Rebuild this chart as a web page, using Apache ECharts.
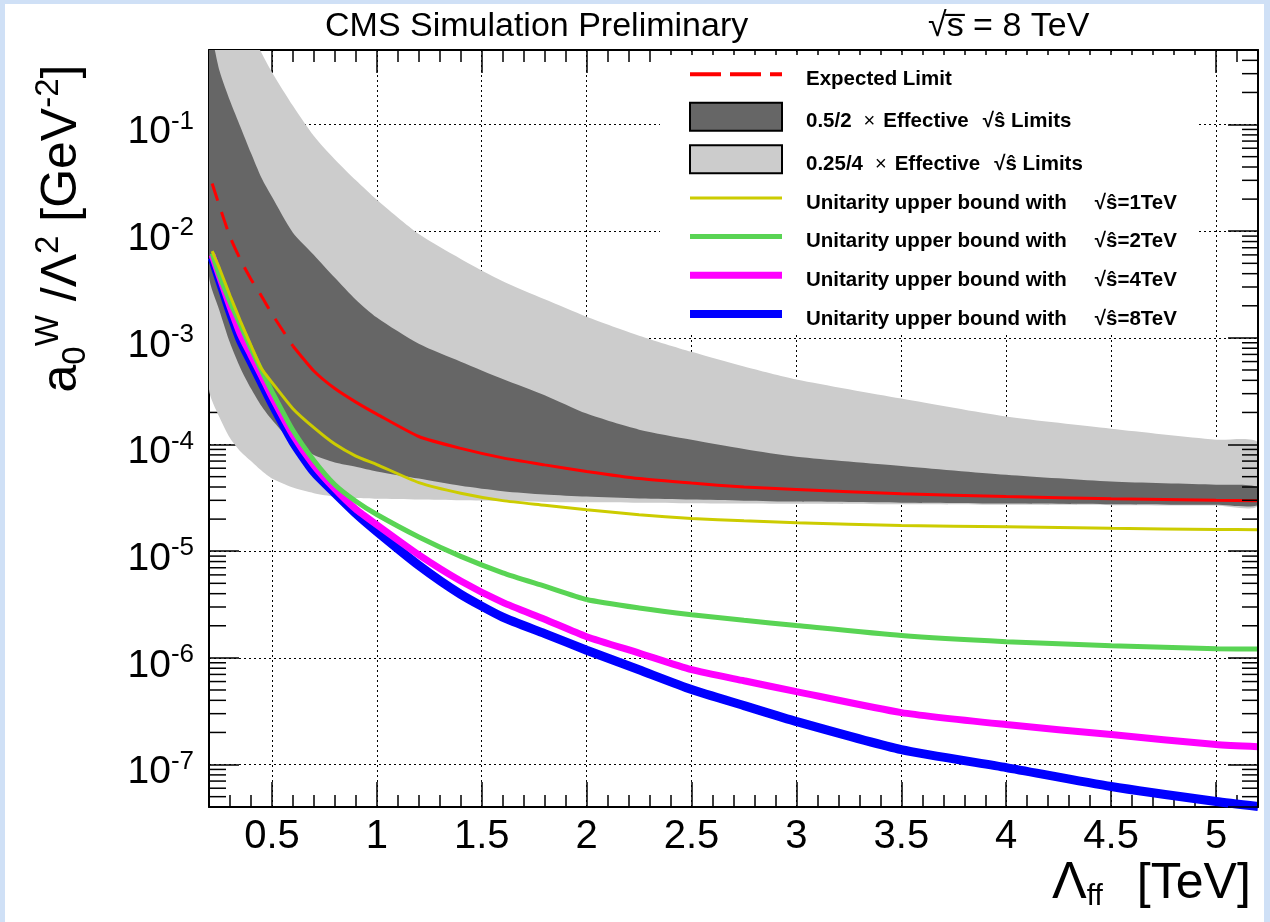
<!DOCTYPE html>
<html>
<head>
<meta charset="utf-8">
<title>a0W limits vs form factor scale</title>
<script src="https://cdn.jsdelivr.net/npm/echarts@6/dist/echarts.min.js"></script>
<style>
  html, body { margin: 0; padding: 0; width: 1270px; height: 922px; overflow: hidden; background: #cfe0f6; }
  #chart { position: absolute; left: 5px; top: 4px; width: 1259px; height: 918px; background: #fff; }
</style>
</head>
<body>
<div id="chart"></div>
<script>
var FONT = "'Liberation Sans', Arial, Helvetica, sans-serif";

// Lambda_ff [TeV] sampling of the bands and of the curves
var lamBand = [0.2, 0.25, 0.3, 0.35, 0.4, 0.45, 0.5, 0.6, 0.7, 0.8, 0.9, 1.0, 1.2, 1.4, 1.6, 1.8, 2.0, 2.25, 2.5, 2.75, 3.0, 3.5, 4.0, 4.5, 5.0, 5.2];
var lamLine = [0.215, 0.25, 0.3, 0.35, 0.4, 0.45, 0.5, 0.6, 0.7, 0.8, 0.9, 1.0, 1.2, 1.4, 1.6, 1.8, 2.0, 2.25, 2.5, 2.75, 3.0, 3.5, 4.0, 4.5, 5.0, 5.2];

// 0.25/4 x effective sqrt(s^) band (light)
var lightLo = [3.3e-4, 1.8e-4, 1.15e-4, 8.6e-5, 7.0e-5, 5.7e-5, 4.8e-5, 3.95e-5, 3.5e-5, 3.25e-5, 3.15e-5, 3.1e-5, 3.05e-5, 3.0e-5, 2.95e-5, 2.9e-5, 2.88e-5, 2.85e-5, 2.82e-5, 2.8e-5, 2.78e-5, 2.75e-5, 2.72e-5, 2.7e-5, 2.68e-5, 2.67e-5];
var lightHi = [10, 4.5, 2.3, 1.3, 0.75, 0.47, 0.31, 0.15, 0.078, 0.047, 0.030, 0.0197, 0.0094, 0.0055, 0.0034, 0.0023, 0.00158, 0.00105, 7.4e-4, 5.4e-4, 4.08e-4, 2.7e-4, 1.83e-4, 1.41e-4, 1.11e-4, 1.04e-4];
// 0.5/2 x effective sqrt(s^) band (dark)
var darkLo = [3.8e-3, 1.8e-3, 9.0e-4, 5.2e-4, 3.35e-4, 2.3e-4, 1.71e-4, 1.05e-4, 8.0e-5, 6.8e-5, 6.2e-5, 5.6e-5, 4.8e-5, 4.1e-5, 3.65e-5, 3.4e-5, 3.25e-5, 3.12e-5, 3.05e-5, 2.98e-5, 2.92e-5, 2.85e-5, 2.8e-5, 2.76e-5, 2.72e-5, 2.7e-5];
var darkHi = [0.8, 0.32, 0.167, 0.095, 0.054, 0.0317, 0.021, 0.0097, 0.006, 0.00366, 0.00228, 0.00155, 8.8e-4, 5.98e-4, 4.11e-4, 2.9e-4, 1.95e-4, 1.38e-4, 1.11e-4, 9.1e-5, 7.7e-5, 6.3e-5, 5.2e-5, 4.5e-5, 4.2e-5, 4.0e-5];

// curves on lamLine
var expected = [0.028, 0.0172, 8.9e-3, 5.4e-3, 3.55e-3, 2.47e-3, 1.68e-3, 8.4e-4, 4.9e-4, 3.35e-4, 2.5e-4, 1.93e-4, 1.19e-4, 9.2e-5, 7.5e-5, 6.45e-5, 5.6e-5, 4.8e-5, 4.35e-5, 4.0e-5, 3.8e-5, 3.45e-5, 3.25e-5, 3.1e-5, 3.0e-5, 2.97e-5];
var unit1 = [6.5e-3, 4.48e-3, 2.5e-3, 1.43e-3, 8.5e-4, 5.16e-4, 3.83e-4, 2.17e-4, 1.44e-4, 1.01e-4, 7.8e-5, 6.5e-5, 4.4e-5, 3.5e-5, 2.98e-5, 2.7e-5, 2.45e-5, 2.2e-5, 2.03e-5, 1.93e-5, 1.85e-5, 1.74e-5, 1.70e-5, 1.64e-5, 1.6e-5, 1.59e-5];
var unit2 = [6.2e-3, 3.83e-3, 2.18e-3, 1.32e-3, 7.96e-4, 4.95e-4, 3.15e-4, 1.36e-4, 7.1e-5, 4.2e-5, 2.94e-5, 2.21e-5, 1.36e-5, 8.95e-6, 6.28e-6, 4.71e-6, 3.53e-6, 2.94e-6, 2.54e-6, 2.25e-6, 2.01e-6, 1.62e-6, 1.42e-6, 1.30e-6, 1.22e-6, 1.21e-6];
var unit4 = [6.0e-3, 3.78e-3, 1.97e-3, 1.08e-3, 6.9e-4, 4.43e-4, 2.81e-4, 1.23e-4, 6.4e-5, 3.84e-5, 2.48e-5, 1.77e-5, 9.25e-6, 5.26e-6, 3.31e-6, 2.3e-6, 1.58e-6, 1.11e-6, 7.76e-7, 6.1e-7, 4.83e-7, 3.07e-7, 2.37e-7, 1.91e-7, 1.54e-7, 1.47e-7];
var unit8 = [5.65e-3, 3.48e-3, 1.76e-3, 9.46e-4, 6.0e-4, 3.82e-4, 2.43e-4, 1.06e-4, 5.53e-5, 3.51e-5, 2.26e-5, 1.53e-5, 7.36e-6, 3.94e-6, 2.41e-6, 1.69e-6, 1.18e-6, 7.73e-7, 5.05e-7, 3.57e-7, 2.53e-7, 1.38e-7, 9.37e-8, 6.22e-8, 4.5e-8, 4.04e-8];

var names = ['Expected Limit', '0.5/2 \u00d7 Effective \u221a\u015d Limits', '0.25/4 \u00d7 Effective \u221a\u015d Limits',
  'Unitarity upper bound with \u221a\u015d=1TeV', 'Unitarity upper bound with \u221a\u015d=2TeV',
  'Unitarity upper bound with \u221a\u015d=4TeV', 'Unitarity upper bound with \u221a\u015d=8TeV'];

var X_MIN = 0.2, X_MAX = 5.2, Y_MIN = 4e-8, Y_MAX = 0.5;

// minor ticks of the log axis (2..9 x 10^k)
var yMinor = [];
for (var k = -8; k <= -1; k++) {
  for (var m = 2; m <= 9; m++) {
    var v = m * Math.pow(10, k);
    if (v > Y_MIN && v < Y_MAX) yMinor.push([X_MIN, v]);
  }
}

function band(name, lo, hi, color) {
  return {
    type: 'custom', name: name, z: 2, silent: true,
    itemStyle: { color: color },
    data: lamBand.map(function (x, i) { return [x, lo[i], hi[i]]; }),
    encode: { x: 0, y: [1, 2] },
    renderItem: function (params, api) {
      if (params.dataIndex !== 0) return null;
      var up = [], dn = [];
      for (var i = 0; i < lamBand.length; i++) {
        up.push(api.coord([lamBand[i], hi[i]]));
        dn.push(api.coord([lamBand[i], lo[i]]));
      }
      var cs = params.coordSys;
      return {
        type: 'polygon',
        shape: { points: up.concat(dn.reverse()), smooth: 0.25 },
        style: { fill: color },
        clipPath: { type: 'rect', shape: { x: cs.x, y: cs.y, width: cs.width, height: cs.height } }
      };
    }
  };
}

function curve(name, xs, ys, color, width, dash) {
  return {
    type: 'line', name: name, symbol: 'none', silent: true, z: 3,
    smooth: 0.2,
    data: xs.map(function (x, i) { return [x, ys[i]]; }),
    lineStyle: { color: color, width: width, type: dash || 'solid' },
    itemStyle: { color: color }
  };
}

function ticks(side, len, z) {
  return {
    type: 'custom', silent: true, z: z, data: yMinor,
    renderItem: function (params, api) {
      var p = api.coord([api.value(0), api.value(1)]);
      var cs = params.coordSys;
      var x0 = side === 'left' ? cs.x : cs.x + cs.width - len;
      return { type: 'line', shape: { x1: x0, y1: p[1], x2: x0 + len, y2: p[1] },
               style: { stroke: '#000', lineWidth: 1.5 } };
    }
  };
}

var split = 7; // expected limit is drawn dashed up to this point
var series = [
  band(names[2], lightLo, lightHi, '#cccccc'),
  band(names[1], darkLo, darkHi, '#666666'),
  curve(names[6], lamLine, unit8, '#0000ff', 9),
  curve(names[5], lamLine, unit4, '#ff00ff', 7),
  curve(names[4], lamLine, unit2, '#59d454', 5),
  curve(names[3], lamLine, unit1, '#cccc00', 3),
  curve(names[0], lamLine.slice(0, split + 1), expected.slice(0, split + 1), '#ff0000', 3, [18, 12]),
  curve(names[0], lamLine.slice(split), expected.slice(split), '#ff0000', 3),
  ticks('left', 17, 1),
  ticks('right', 16, 6)
];

function legendLabel(name) {
  if (name === names[0]) return '{t|' + name + '}';
  var parts;
  if (name.indexOf('Unitarity') === 0) {
    parts = name.split(' \u221a');
    return '{t|' + parts[0] + '}{s|\u221a' + parts[1] + '}';
  }
  parts = name.split(' \u00d7 ');
  var rest = parts[1].split(' \u221a');
  return '{t|' + parts[0] + '}{x|\u00d7}{t|' + rest[0] + '}{r|\u221a' + rest[1] + '}';
}

function logLabel(v) {
  var e = Math.log10(v), n = Math.round(e);
  if (Math.abs(e - n) > 1e-6) return '';
  return '{b|10}{e|' + n + '}';
}

function halfLabel(v) {
  if (Math.abs(v * 2 - Math.round(v * 2)) > 1e-6) return '';
  return String(Math.round(v * 10) / 10);
}

var noDot = { opacity: 0 };

var chart = echarts.init(document.getElementById('chart'));
chart.setOption({
  backgroundColor: '#fff',
  animation: false,
  title: [
    { text: 'CMS Simulation Preliminary', left: 320, top: 6, padding: 0,
      textStyle: { fontFamily: FONT, fontSize: 34, fontWeight: 'normal', color: '#000', lineHeight: 34 } },
    { text: '\u221as\u0305 = 8 TeV', left: 923, top: 6, padding: 0,
      textStyle: { fontFamily: FONT, fontSize: 34, fontWeight: 'normal', color: '#000', lineHeight: 34 } }
  ],
  grid: { left: 204, right: 6, top: 46, bottom: 115, containLabel: false, outerBoundsMode: 'none' },
  legend: {
    orient: 'vertical', left: 655, top: 51,
    padding: [8, 20, 4, 26],
    backgroundColor: '#fff',
    itemWidth: 92, itemHeight: 28, itemGap: 12,
    selectedMode: false,
    data: [
      { name: names[0], itemStyle: noDot, lineStyle: { width: 4, type: [31, 9], color: '#ff0000' } },
      { name: names[1], icon: 'rect', itemStyle: { color: '#666666', borderColor: '#000', borderWidth: 2 } },
      { name: names[2], icon: 'rect', itemStyle: { color: '#cccccc', borderColor: '#000', borderWidth: 2 } },
      { name: names[3], itemStyle: noDot, lineStyle: { width: 3 } },
      { name: names[4], itemStyle: noDot, lineStyle: { width: 5 } },
      { name: names[5], itemStyle: noDot, lineStyle: { width: 7 } },
      { name: names[6], itemStyle: noDot, lineStyle: { width: 8 } }
    ],
    formatter: legendLabel,
    textStyle: {
      padding: [10, 0, 0, 19],
      rich: {
        t: { fontFamily: FONT, fontSize: 20.5, fontWeight: 'bold', color: '#000' },
        x: { fontFamily: FONT, fontSize: 20, color: '#000', padding: [0, 8, 0, 12] },
        r: { fontFamily: FONT, fontSize: 20.5, fontWeight: 'bold', color: '#000', padding: [0, 0, 0, 14] },
        s: { fontFamily: FONT, fontSize: 20.5, fontWeight: 'bold', color: '#000', padding: [0, 0, 0, 28] }
      }
    }
  },
  xAxis: [
    { type: 'value', min: X_MIN, max: X_MAX, splitNumber: 10, position: 'bottom', z: 0,
      axisLine: { lineStyle: { color: '#000', width: 2 } },
      axisTick: { inside: true, length: 25, lineStyle: { color: '#000', width: 1.5 } },
      axisLabel: { margin: 10, formatter: halfLabel, showMinLabel: false, showMaxLabel: false,
                   fontFamily: FONT, fontSize: 40, color: '#000' },
      splitLine: { show: true, lineStyle: { color: '#000', width: 1, type: [2, 3] } },
      name: '{L|\u039b}{f|ff}{u|[TeV]}', nameLocation: 'end', nameGap: -206, nameMoveOverlap: false,
      nameTextStyle: { verticalAlign: 'top', padding: [49, 0, 0, 0],
        rich: {
          L: { fontFamily: FONT, fontSize: 52, color: '#000', lineHeight: 56 },
          f: { fontFamily: FONT, fontSize: 30, color: '#000', verticalAlign: 'bottom', lineHeight: 30 },
          u: { fontFamily: FONT, fontSize: 50, color: '#000', lineHeight: 56, padding: [0, 0, 0, 34] }
        } } },
    { type: 'value', min: X_MIN, max: X_MAX, interval: 0.1, position: 'bottom', z: 0,
      axisLine: { show: false }, axisLabel: { show: false }, splitLine: { show: false },
      axisTick: { inside: true, length: 12, lineStyle: { color: '#000', width: 1.5 } } },
    { type: 'value', min: X_MIN, max: X_MAX, splitNumber: 10, position: 'top', z: 0,
      axisLine: { lineStyle: { color: '#000', width: 2 } }, axisLabel: { show: false }, splitLine: { show: false },
      axisTick: { inside: true, length: 23, lineStyle: { color: '#000', width: 1.5 } } },
    { type: 'value', min: X_MIN, max: X_MAX, interval: 0.1, position: 'top', z: 0,
      axisLine: { show: false }, axisLabel: { show: false }, splitLine: { show: false },
      axisTick: { inside: true, length: 12, lineStyle: { color: '#000', width: 1.5 } } }
  ],
  yAxis: [
    { type: 'log', min: Y_MIN, max: Y_MAX, position: 'left', z: 0,
      axisLine: { lineStyle: { color: '#000', width: 2 } },
      axisTick: { inside: true, length: 30, lineStyle: { color: '#000', width: 1.5 } },
      axisLabel: { margin: 15, formatter: logLabel, showMinLabel: false, showMaxLabel: false,
        padding: [16, 0, 0, 0],
        rich: {
          b: { fontFamily: FONT, fontSize: 39, color: '#000', lineHeight: 48 },
          e: { fontFamily: FONT, fontSize: 26, color: '#000', lineHeight: 22, verticalAlign: 'top' }
        } },
      splitLine: { show: true, lineStyle: { color: '#000', width: 1, type: [2, 3] } },
      name: '{a|a}{s|0}{w|W}{a| /\u039b}{p|2}{a| [GeV}{p|-2}{a|]}',
      nameLocation: 'middle', nameRotate: 90, nameGap: 117, nameMoveOverlap: false,
      nameTextStyle: { padding: [0, 0, 0, 400],
        rich: {
          a: { fontFamily: FONT, fontSize: 50, color: '#000', lineHeight: 60 },
          s: { fontFamily: FONT, fontSize: 33, color: '#000', lineHeight: 30, verticalAlign: 'bottom' },
          w: { fontFamily: FONT, fontSize: 33, color: '#000', lineHeight: 32, verticalAlign: 'top' },
          p: { fontFamily: FONT, fontSize: 33, color: '#000', lineHeight: 32, verticalAlign: 'top' }
        } } },
    { type: 'log', min: Y_MIN, max: Y_MAX, position: 'right', z: 6,
      axisLine: { lineStyle: { color: '#000', width: 2 } }, axisLabel: { show: false }, splitLine: { show: false },
      axisTick: { inside: true, length: 30, lineStyle: { color: '#000', width: 1.5 } } }
  ],
  series: series
});
</script>
</body>
</html>
